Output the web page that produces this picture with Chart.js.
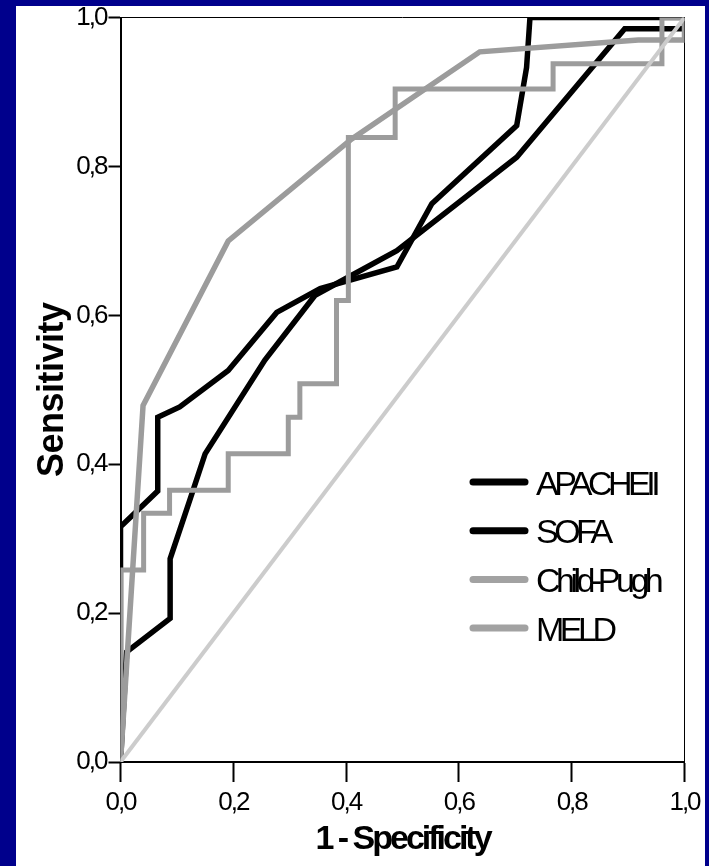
<!DOCTYPE html>
<html>
<head>
<meta charset="utf-8">
<script src="https://cdn.jsdelivr.net/npm/chart.js@4.4.0/dist/chart.umd.min.js"></script>
<style>
  html, body { margin: 0; padding: 0; background: #00008c; }
  canvas { display: block; }
</style>
</head>
<body>
<canvas id="roc-chart" width="709" height="866"></canvas>
<script>
var xTicks = [0, 0.2, 0.4, 0.6, 0.8, 1.0];
var yTicks = [0, 0.2, 0.4, 0.6, 0.8, 1.0];

var seriesNames = ['APACHEII', 'SOFA', 'Child-Pugh', 'MELD'];

// 1 - specificity (x) and sensitivity (y) for each score
var apacheX = [0, 0, 0.066, 0.066, 0.105, 0.191, 0.277, 0.354, 0.49, 0.552, 0.7025, 0.72, 0.726, 1];
var apacheY = [0, 0.316, 0.364, 0.463, 0.477, 0.526, 0.604, 0.636, 0.665, 0.75, 0.855, 0.933, 1, 1];

var sofaX = [0, 0.011, 0.088, 0.088, 0.123, 0.15, 0.256, 0.345, 0.49, 0.7025, 0.894, 1, 1];
var sofaY = [0, 0.148, 0.193, 0.273, 0.352, 0.414, 0.54, 0.627, 0.687, 0.8125, 0.985, 0.985, 1];

var childX = [0, 0.04, 0.191, 0.41, 0.637, 0.918, 1, 1];
var childY = [0, 0.479, 0.70, 0.837, 0.954, 0.970, 0.970, 1];

var meldX = [0, 0, 0.041, 0.041, 0.087, 0.087, 0.191, 0.191, 0.2975, 0.2975, 0.318, 0.318, 0.383, 0.383,
             0.404, 0.404, 0.487, 0.487, 0.767, 0.767, 0.96, 0.96, 1];
var meldY = [0, 0.258, 0.258, 0.334, 0.334, 0.365, 0.365, 0.414, 0.414, 0.463, 0.463, 0.508, 0.508, 0.620,
             0.620, 0.839, 0.839, 0.904, 0.904, 0.938, 0.938, 1, 1];

var refX = [0, 1];
var refY = [0, 1];

var sans = '"Liberation Sans", Arial, sans-serif';

// tight tracking, per axis, for tick labels and titles
var textSpacing = {
  x: {labels: '-2px', title: '-3px'},
  y: {labels: '-2px', title: '-0.5px'}
};

function toPoints(xs, ys) {
  var pts = [];
  for (var i = 0; i < xs.length; i++) {
    pts.push({x: xs[i], y: ys[i]});
  }
  return pts;
}

function commaLabel(value) {
  return value.toFixed(1).replace('.', ',');
}

function fixedTicks(list) {
  return function (scale) {
    scale.ticks = list.map(function (v) { return {value: v}; });
  };
}

function withSpacing(fn, spacing) {
  return function () {
    var c = this.ctx;
    var old = c.letterSpacing;
    c.letterSpacing = spacing;
    fn.apply(this, arguments);
    c.letterSpacing = old;
  };
}

var spacingPlugin = {
  id: 'tracking',
  afterUpdate: function (chart) {
    Object.keys(textSpacing).forEach(function (id) {
      var scale = chart.scales[id];
      if (!scale || scale._tracked) return;
      scale._tracked = true;
      scale.drawLabels = withSpacing(scale.drawLabels, textSpacing[id].labels);
      scale.drawTitle = withSpacing(scale.drawTitle, textSpacing[id].title);
    });
  }
};

// navy frame with the white panel inside
var framePlugin = {
  id: 'frame',
  beforeDraw: function (chart) {
    var ctx = chart.ctx;
    ctx.save();
    ctx.fillStyle = '#00008c';
    ctx.fillRect(0, 0, chart.width, chart.height);
    ctx.fillStyle = '#ffffff';
    ctx.fillRect(16, 6, 689, chart.height - 6);
    ctx.restore();
  }
};

// legend drawn inside the plot, lower right
var legendPlugin = {
  id: 'insideLegend',
  afterDatasetsDraw: function (chart) {
    var ctx = chart.ctx;
    var items = chart.data.datasets.filter(function (ds) { return ds.label; });
    ctx.save();
    ctx.font = '34px ' + sans;
    ctx.letterSpacing = '-4.5px';
    ctx.textBaseline = 'alphabetic';
    ctx.textAlign = 'left';
    ctx.lineCap = 'round';
    items.forEach(function (ds, i) {
      var y = 482 + i * 48.7;
      ctx.strokeStyle = ds.legendColor || ds.borderColor;
      ctx.lineWidth = 7;
      ctx.beginPath();
      ctx.moveTo(473, y);
      ctx.lineTo(525, y);
      ctx.stroke();
      ctx.fillStyle = '#000000';
      ctx.fillText(ds.label, 536, y + 12.5);
    });
    ctx.restore();
  }
};

var ctx = document.getElementById('roc-chart').getContext('2d');

var rocChart = new Chart(ctx, {
  type: 'line',
  data: {
    datasets: [
      {label: seriesNames[0], data: toPoints(apacheX, apacheY), borderColor: '#000000', borderWidth: 5.5, order: 2},
      {label: seriesNames[1], data: toPoints(sofaX, sofaY), borderColor: '#000000', borderWidth: 5.5, order: 2},
      {label: seriesNames[2], data: toPoints(childX, childY), borderColor: '#9c9c9c', legendColor: '#a2a2a2', borderWidth: 5.5, order: 1},
      {label: seriesNames[3], data: toPoints(meldX, meldY), borderColor: '#9c9c9c', legendColor: '#a2a2a2', borderWidth: 5, order: 1},
      {data: toPoints(refX, refY), borderColor: '#cccccc', borderWidth: 4, order: 0}
    ]
  },
  options: {
    responsive: false,
    animation: false,
    parsing: false,
    layout: {padding: {left: 0, top: 17, right: 24.5, bottom: 0}},
    elements: {
      line: {tension: 0, fill: false, borderJoinStyle: 'miter', borderCapStyle: 'butt'},
      point: {radius: 0, hoverRadius: 0}
    },
    plugins: {
      legend: {display: false},
      tooltip: {enabled: false}
    },
    scales: {
      x: {
        type: 'linear',
        position: 'bottom',
        min: 0,
        max: 1,
        afterBuildTicks: fixedTicks(xTicks),
        afterFit: function (scale) { scale.height = 104; },
        border: {display: true, color: '#000000', width: 2},
        grid: {drawOnChartArea: false, drawTicks: true, tickLength: 20, tickColor: '#000000', tickWidth: 2},
        ticks: {
          color: '#000000',
          padding: 5,
          maxRotation: 0,
          autoSkip: false,
          font: {family: sans, size: 26},
          callback: commaLabel
        },
        title: {
          display: true,
          text: '1 - Specificity',
          color: '#000000',
          font: {family: sans, size: 34, weight: 'bold'},
          padding: {top: 0, bottom: 6}
        }
      },
      y: {
        type: 'linear',
        position: 'left',
        min: 0,
        max: 1,
        afterBuildTicks: fixedTicks(yTicks),
        afterFit: function (scale) { scale.width = 120.5; },
        border: {display: true, color: '#000000', width: 2},
        grid: {drawOnChartArea: false, drawTicks: true, tickLength: 12, tickColor: '#000000', tickWidth: 2},
        ticks: {
          color: '#000000',
          padding: 2,
          font: {family: sans, size: 26},
          callback: commaLabel
        },
        title: {
          display: true,
          text: 'Sensitivity',
          color: '#000000',
          font: {family: sans, size: 36, weight: 'bold'},
          padding: {top: 31, bottom: 0}
        }
      },
      xTop: {
        type: 'linear',
        position: 'top',
        min: 0,
        max: 1,
        afterFit: function (scale) { scale.height = 0; },
        border: {display: true, color: '#000000', width: 1},
        grid: {display: false, drawTicks: false},
        ticks: {display: false}
      },
      yRight: {
        type: 'linear',
        position: 'right',
        min: 0,
        max: 1,
        afterFit: function (scale) { scale.width = 0; },
        border: {display: true, color: '#000000', width: 1},
        grid: {display: false, drawTicks: false},
        ticks: {display: false}
      }
    }
  },
  plugins: [framePlugin, spacingPlugin, legendPlugin]
});
</script>
</body>
</html>
